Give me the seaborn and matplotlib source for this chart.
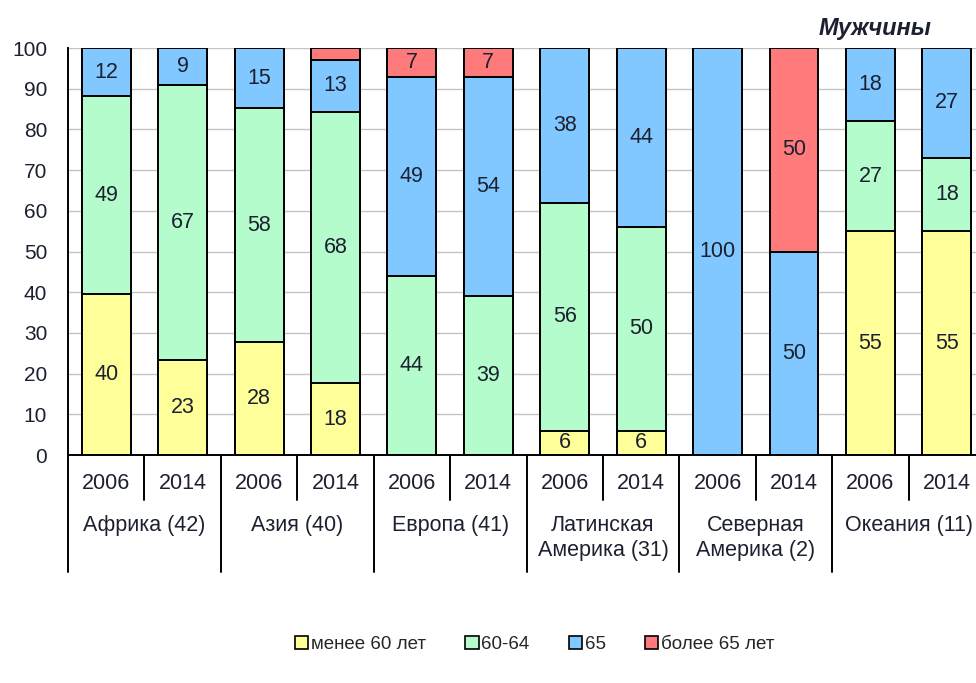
import pandas as pd
import numpy as np
import matplotlib.pyplot as plt
import matplotlib.transforms as mtrans
from matplotlib.patches import Patch
import seaborn as sns

regions = ["Африка (42)", "Азия (40)", "Европа (41)",
           "Латинская\nАмерика (31)", "Северная\nАмерика (2)", "Океания (11)"]
years = ["2006", "2014"] * 6
under_60 = [40, 23, 28, 18, 0, 0, 6, 6, 0, 0, 55, 55]
age_60_64 = [49, 67, 58, 68, 44, 39, 56, 50, 0, 0, 27, 18]
age_65 = [12, 9, 15, 13, 49, 54, 38, 44, 100, 50, 18, 27]
over_65 = [0, 0, 0, 3, 7, 7, 0, 0, 0, 50, 0, 0]
series_names = ["менее 60 лет", "60-64", "65", "более 65 лет"]

YELLOW = "#FFFF99"
GREEN = "#B4FCCB"
BLUE = "#80C8FF"
RED = "#FF7A7A"
COLORS = [YELLOW, GREEN, BLUE, RED]
TXT = "#1c2030"

sns.set_style("white")
plt.rcParams["font.family"] = ["Liberation Sans", "DejaVu Sans"]

keys = [f"{i}" for i in range(len(years))]
raw = np.array([under_60, age_60_64, age_65, over_65], dtype=float)
pct = raw / raw.sum(axis=0) * 100
cum = np.cumsum(pct, axis=0)
df = pd.DataFrame({"key": keys})
for i, name in enumerate(series_names):
    df[name] = cum[i]

fig = plt.figure(figsize=(9.76, 6.83), dpi=100)
ax = fig.add_axes([0.0697, 0.3338, 0.9396, 0.5959])

# stacked bars: draw cumulative totals from the top layer down
for i in range(3, -1, -1):
    sns.barplot(data=df, x="key", y=series_names[i], order=keys, color=COLORS[i],
                saturation=1, edgecolor="black", linewidth=1.4, width=0.64, ax=ax)

for j in range(len(keys)):
    for i in range(4):
        if raw[i, j] >= 5:
            mid = cum[i, j] - pct[i, j] / 2
            ax.text(j, mid, f"{int(raw[i, j])}", ha="center", va="center",
                    fontsize=15.5, color=TXT)

ax.set_xlim(-0.5, 11.5)
ax.set_ylim(0, 100)
ax.set_yticks(range(0, 101, 10))
ax.yaxis.grid(True, color="#c4c4c4", linewidth=1)
ax.set_axisbelow(True)
ax.tick_params(axis="y", length=0, pad=15, labelsize=15, labelcolor=TXT)
ax.set_xticks([])
ax.set_xlabel("")
ax.set_ylabel("")
for s in ["top", "right"]:
    ax.spines[s].set_visible(False)
for s in ["left", "bottom"]:
    ax.spines[s].set_color("black")
    ax.spines[s].set_linewidth(1.4)

# two-level category axis
tr = mtrans.blended_transform_factory(ax.transData, ax.transAxes)
for j, y in enumerate(years):
    ax.text(j, -0.069, y, transform=tr, ha="center", va="center",
            fontsize=15.5, color=TXT)
for g, reg in enumerate(regions):
    ax.text(2 * g + 0.5, -0.148, reg, transform=tr, ha="center", va="top",
            fontsize=15.5, color=TXT, linespacing=1.25)
    ax.plot([2 * g + 0.5] * 2, [0, -0.11], transform=tr, color="black",
            linewidth=1.4, clip_on=False)
for g in range(len(regions) + 1):
    ax.plot([2 * g - 0.5] * 2, [0, -0.287], transform=tr, color="black",
            linewidth=1.4, clip_on=False)

fig.text(0.897, 0.958, "Мужчины", ha="center", va="center", fontsize=17,
         fontweight="bold", fontstyle="italic", color=TXT)

handles = [Patch(facecolor=c, edgecolor="black", linewidth=1.2) for c in COLORS]
fig.legend(handles, series_names, loc="center", bbox_to_anchor=(0.548, 0.056),
           ncol=4, frameon=False, fontsize=13.5, handlelength=0.7,
           handleheight=0.7, handletextpad=0.15, columnspacing=2.1)

fig.savefig("out.png", dpi=100)
